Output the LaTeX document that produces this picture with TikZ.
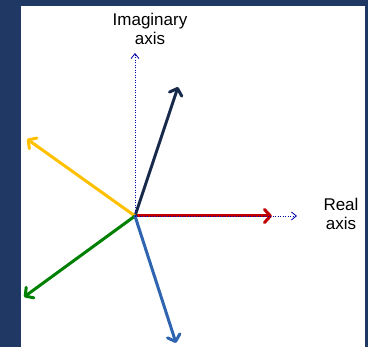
\documentclass[tikz,border=0pt]{standalone}
\usepackage{fontspec}
\setmainfont{Liberation Sans}
\usetikzlibrary{arrows.meta}
\definecolor{bgnavy}{RGB}{31,56,100}
\definecolor{phnavy}{RGB}{24,42,76}
\definecolor{phred}{RGB}{192,0,0}
\definecolor{phyellow}{RGB}{255,192,0}
\definecolor{phgreen}{RGB}{0,128,0}
\definecolor{phblue}{RGB}{46,100,176}
\definecolor{axisblue}{RGB}{0,0,170}

\begin{document}
\begin{tikzpicture}[
	x=1pt, y=-1pt,
	axis line/.style={-{Straight Barb[length=5pt, width=8pt]}, axisblue, dash pattern=on 1pt off 1.5pt, line width=0.8pt},
	phasor/.style={-{Straight Barb[length=6pt, width=13pt, round]}, line width=3pt, line cap=round},
	axis label/.style={font=\fontsize{17}{19}\selectfont, align=center, text=black},
	]
	
	% background and white panel
	\fill[bgnavy] (0,0) rectangle (368,347);
	\fill[white] (21,6) rectangle (365,347);
	\useasboundingbox (0,0) rectangle (368,347);
	
	% origin and end points
	\coordinate (O) at (135,216);
	\coordinate (imtip) at (135,53);
	\coordinate (retip) at (297,216);
	\coordinate (v1) at (178,87);
	\coordinate (v2) at (272,216);
	\coordinate (v3) at (27,139);
	\coordinate (v4) at (24,297);
	\coordinate (v5) at (176,343);
	
	% phasors
	\draw[phasor, phred] (O) -- (v2);
	\draw[phasor, phnavy] (O) -- (v1);
	\draw[phasor, phyellow] (O) -- (v3);
	\draw[phasor, phgreen] (O) -- (v4);
	\draw[phasor, phblue] (O) -- (v5);
	
	% axes (drawn over the phasors)
	\draw[axis line] (O) -- (imtip);
	\draw[axis line] (O) -- (retip);
	
	% labels
	\node[axis label] (imlabel) at (150,29) {Imaginary\\axis};
	\node[axis label] (relabel) at (341,214) {Real\\axis};
	
\end{tikzpicture}
\end{document}
